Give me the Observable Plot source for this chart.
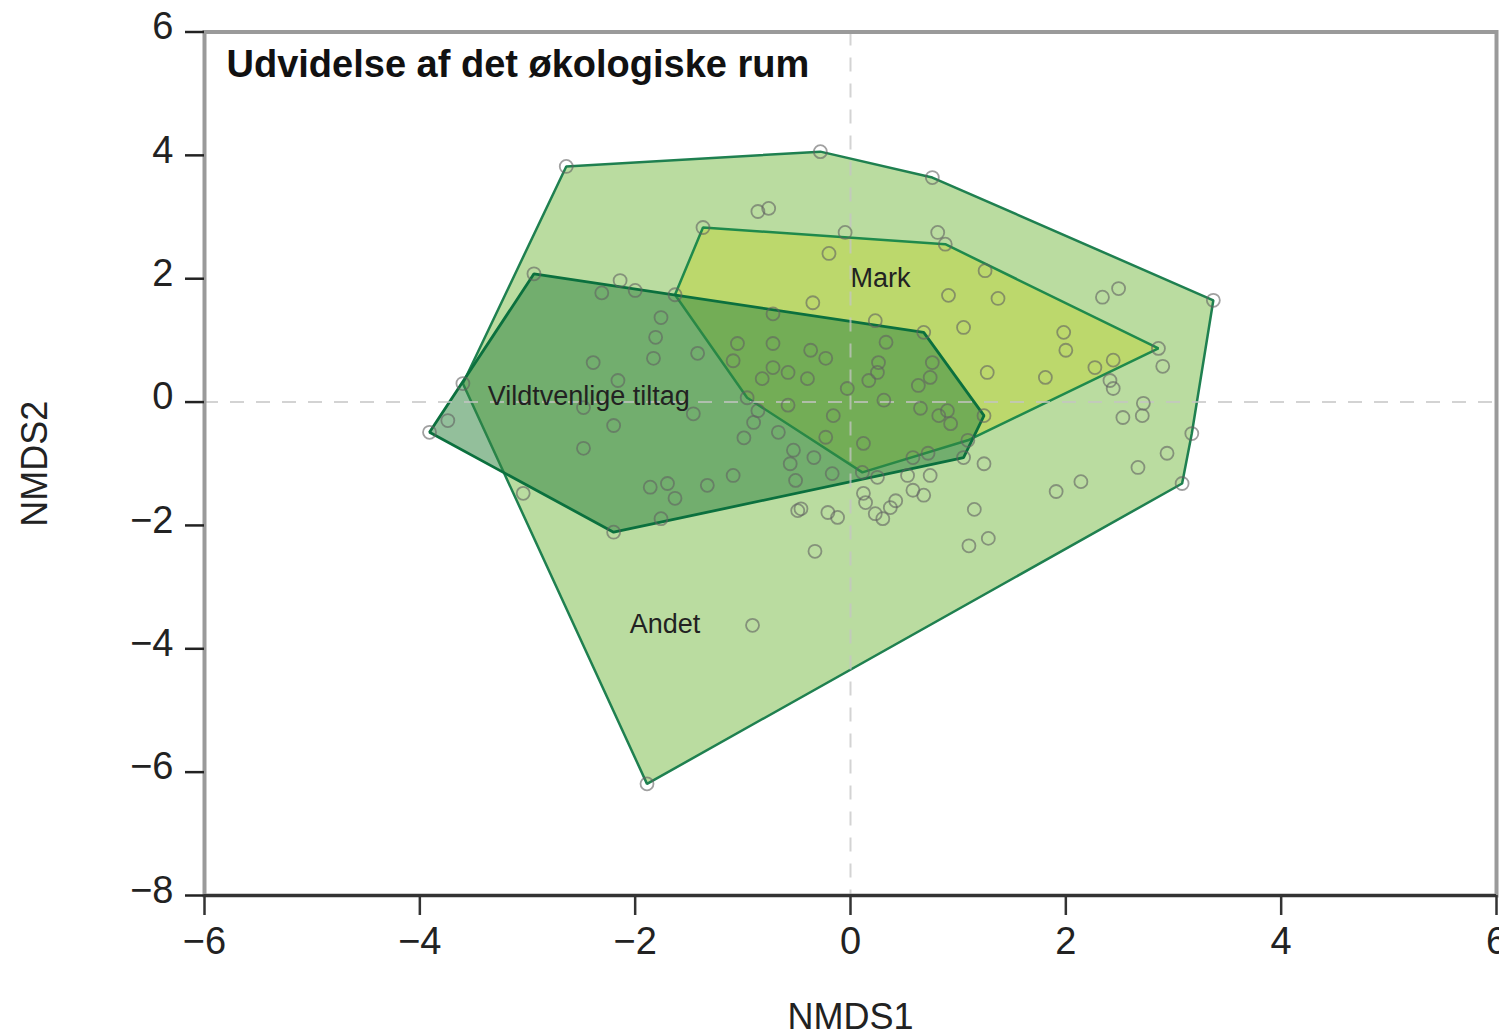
<!DOCTYPE html>
<html><head><meta charset="utf-8">
<script src="https://cdn.jsdelivr.net/npm/d3@7"></script>
<script src="https://cdn.jsdelivr.net/npm/@observablehq/plot@0.6"></script>
<style>body{margin:0;background:#fff;}</style>
</head><body><div id="chart"></div>
<script>
const xTicks = [-6, -4, -2, 0, 2, 4, 6];
const yTicks = [-8, -6, -4, -2, 0, 2, 4, 6];
const title = "Udvidelse af det økologiske rum";
const xLabel = "NMDS1";
const yLabel = "NMDS2";

const andetX = [-2.64,-0.28,0.76,3.37,3.17,3.08,-1.89,-3.60,-0.86,-0.76,-0.05,0.81,-2.14,2.34,2.49,2.90,2.41,2.44,2.72,2.71,2.53,2.94,2.67,2.14,1.91,1.24,1.15,1.28,1.10,0.74,0.58,0.68,0.42,0.23,0.30,0.12,0.14,-0.21,-0.12,-0.49,-0.46,-0.33,-0.91,-3.04,0.53,0.25,0.37];
const andetY = [3.82,4.06,3.64,1.65,-0.51,-1.32,-6.19,0.30,3.09,3.14,2.75,2.75,1.97,1.70,1.84,0.58,0.35,0.22,-0.02,-0.22,-0.25,-0.83,-1.06,-1.29,-1.45,-1.00,-1.74,-2.21,-2.33,-1.19,-1.43,-1.51,-1.60,-1.81,-1.89,-1.48,-1.63,-1.79,-1.87,-1.76,-1.73,-2.42,-3.62,-1.48,-1.19,-1.22,-1.71];

const markX = [-1.37,0.88,2.86,1.09,0.11,-0.96,-1.63,-0.20,1.25,0.91,1.37,1.05,1.98,2.00,1.27,1.81,2.44,2.27,0.33,0.23,-0.35,-0.72,0.76,-0.72,-0.37,-0.23,0.25,0.17];
const markY = [2.83,2.56,0.87,-0.62,-1.14,0.07,1.74,2.41,2.13,1.73,1.68,1.21,1.13,0.84,0.48,0.40,0.68,0.56,0.97,1.32,1.61,1.43,0.64,0.95,0.84,0.71,0.48,0.35];

const vildtX = [-2.94,0.68,1.24,1.05,-2.20,-3.91,-2.31,-2.00,-1.76,-1.81,-1.83,-1.42,-2.39,-2.16,-2.48,-2.20,-2.48,-1.86,-1.70,-1.63,-1.33,-1.09,-1.76,-3.74,-1.46,-0.99,-0.90,-0.86,-0.67,-0.53,-0.56,-0.51,-0.34,-0.17,-0.23,0.12,0.58,0.72,-1.05,-0.72,-0.58,-0.82,-0.40,-0.03,0.26,0.31,0.63,0.74,0.65,0.82,0.90,0.93,-0.58,-0.16,-1.09];
const vildtY = [2.08,1.13,-0.22,-0.90,-2.11,-0.49,1.77,1.81,1.37,1.05,0.71,0.79,0.64,0.35,-0.09,-0.38,-0.75,-1.38,-1.32,-1.56,-1.35,-1.19,-1.89,-0.30,-0.19,-0.58,-0.33,-0.14,-0.49,-0.78,-1.00,-1.27,-0.90,-1.16,-0.57,-0.67,-0.90,-0.83,0.95,0.56,0.48,0.38,0.38,0.22,0.64,0.03,0.27,0.40,-0.10,-0.22,-0.14,-0.35,-0.05,-0.22,0.67];

const labelText = ["Mark", "Vildtvenlige tiltag", "Andet"];
const labelX = [0.0, -3.37, -2.05];
const labelY = [2.01, 0.10, -3.61];

const rows = (xs, ys, g) => xs.map((x, i) => ({x, y: ys[i], group: g}));
const andet = rows(andetX, andetY, "Andet");
const mark = rows(markX, markY, "Mark");
const vildt = rows(vildtX, vildtY, "Vildtvenlige tiltag");
const allPts = [...andet, ...mark, ...vildt];
const labels = labelText.map((t, i) => ({t, x: labelX[i], y: labelY[i]}));
const fmt = d => d < 0 ? "\u2212" + Math.abs(d) : String(d);

const chart = Plot.plot({
  width: 1499, height: 1031,
  marginLeft: 204, marginRight: 3, marginTop: 31.5, marginBottom: 136,
  style: {fontFamily: "'Liberation Sans', Arial, sans-serif", fontSize: "38px", color: "#222", background: "#fff"},
  x: {domain: [-6, 6]},
  y: {domain: [-8, 6]},
  marks: [
    Plot.hull(andet, {x: "x", y: "y", fill: "#badca0", stroke: "#1f8050", strokeWidth: 2.5}),
    Plot.hull(mark, {x: "x", y: "y", fill: "#bcd86c", stroke: "#1f8a4c", strokeWidth: 2.5}),
    Plot.hull(vildt, {x: "x", y: "y", fill: "#338642", fillOpacity: 0.53, stroke: "#0b703e", strokeWidth: 2.8}),
    Plot.ruleX([0], {stroke: "#c4c4c4", strokeOpacity: 0.75, strokeWidth: 2, strokeDasharray: "14,12"}),
    Plot.ruleY([0], {stroke: "#c4c4c4", strokeOpacity: 0.75, strokeWidth: 2, strokeDasharray: "14,12"}),
    Plot.dot(allPts, {x: "x", y: "y", r: 6.5, stroke: "#606060", strokeOpacity: 0.6, strokeWidth: 1.8}),
    Plot.text(labels, {x: "x", y: "y", text: "t", textAnchor: "start", fontSize: 27, fill: "#222"}),
    Plot.frame({stroke: "#9a9a9a", strokeWidth: 4}),
    Plot.ruleY([-8], {stroke: "#333", strokeWidth: 3}),
    Plot.axisY(yTicks, {tickSize: 19, strokeWidth: 2.5, stroke: "#222", fill: "none", label: null}),
    Plot.axisY(yTicks, {tickSize: 19, tickPadding: 12, stroke: "none", fill: "#222", dy: -5, tickFormat: fmt, label: null}),
    Plot.axisX(xTicks, {tickSize: 20, tickPadding: 12, strokeWidth: 2.5, stroke: "#333", fill: "#222", tickFormat: fmt, label: null}),
    Plot.text([title], {frameAnchor: "top-left", dx: 22, dy: 18, lineAnchor: "top", fontWeight: "bold", fontSize: 38, fill: "#111"}),
    Plot.text([xLabel], {frameAnchor: "bottom", dy: 108, lineAnchor: "top", fontSize: 36, fill: "#222"}),
    Plot.text([yLabel], {frameAnchor: "left", dx: -169, rotate: -90, textAnchor: "middle", lineAnchor: "middle", fontSize: 36, fill: "#222"})
  ]
});
document.getElementById("chart").appendChild(chart);
</script>
</body></html>
